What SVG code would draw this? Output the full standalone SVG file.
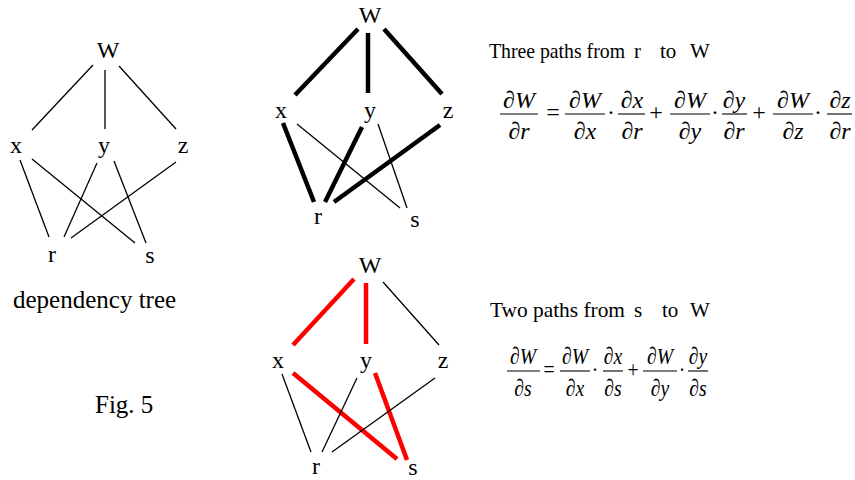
<svg xmlns="http://www.w3.org/2000/svg" width="855" height="480" viewBox="0 0 855 480">
<style>
.lbl{font-family:"Liberation Serif","Times New Roman",serif;font-size:24px;text-anchor:middle;fill:#000}
.cap{font-family:"Liberation Serif","Times New Roman",serif;font-size:21px;fill:#000}
.big{font-family:"Liberation Serif","Times New Roman",serif;font-size:25px;fill:#000}
.m{font-family:"Liberation Serif","Times New Roman",serif;font-size:24px;font-style:italic;text-anchor:middle;fill:#000}
.op{font-family:"Liberation Serif","Times New Roman",serif;font-size:24px;text-anchor:middle;fill:#000}
.thin{stroke:#000;stroke-width:1.3;fill:none}
.thick{stroke:#000;stroke-width:4.5;fill:none}
.red{stroke:#ff0000;stroke-width:4.5;fill:none}
.bar{stroke:#000;stroke-width:1.1;fill:none}
</style>
<rect width="855" height="480" fill="#fff"/>
<g id="connectors">
  <!-- left tree -->
  <line class="thin" x1="93" y1="65" x2="32" y2="130"/>
  <line class="thin" x1="105" y1="70" x2="105" y2="129"/>
  <line class="thin" x1="119" y1="66" x2="176" y2="129"/>
  <line class="thin" x1="20" y1="160" x2="49" y2="237"/>
  <line class="thin" x1="32" y1="159" x2="135" y2="243"/>
  <line class="thin" x1="97" y1="163" x2="64" y2="237"/>
  <line class="thin" x1="114" y1="161" x2="146" y2="243"/>
  <line class="thin" x1="176" y1="162" x2="71" y2="238"/>
  <!-- top middle tree -->
  <line class="thick" x1="358" y1="29" x2="295" y2="95"/>
  <line class="thick" x1="368" y1="33" x2="368" y2="93"/>
  <line class="thick" x1="384" y1="29" x2="442" y2="94"/>
  <line class="thick" x1="283" y1="123" x2="314" y2="202"/>
  <line class="thin" x1="297" y1="124" x2="400" y2="208"/>
  <line class="thick" x1="362" y1="127" x2="325" y2="202"/>
  <line class="thin" x1="378" y1="124" x2="407" y2="208"/>
  <line class="thick" x1="440" y1="125" x2="334" y2="202"/>
  <!-- bottom middle tree -->
  <line class="red" x1="354" y1="279" x2="293" y2="345"/>
  <line class="red" x1="366" y1="283" x2="366" y2="344"/>
  <line class="thin" x1="383" y1="282" x2="439" y2="345"/>
  <line class="thin" x1="282" y1="374" x2="311" y2="452"/>
  <line class="red" x1="293" y1="373" x2="397" y2="459"/>
  <line class="thin" x1="357" y1="378" x2="322" y2="452"/>
  <line class="red" x1="375" y1="373" x2="407" y2="460"/>
  <line class="thin" x1="435" y1="378" x2="332" y2="452"/>
</g>
<!-- left tree nodes -->
<g id="t1-W"><text class="lbl" x="108" y="58">W</text></g>
<g id="t1-x"><text class="lbl" x="16" y="153">x</text></g>
<g id="t1-y"><text class="lbl" x="104" y="153">y</text></g>
<g id="t1-z"><text class="lbl" x="183" y="153">z</text></g>
<g id="t1-r"><text class="lbl" x="52" y="262">r</text></g>
<g id="t1-s"><text class="lbl" x="150" y="263">s</text></g>
<!-- top middle tree nodes -->
<g id="t2-W"><text class="lbl" x="370" y="23">W</text></g>
<g id="t2-x"><text class="lbl" x="281" y="118">x</text></g>
<g id="t2-y"><text class="lbl" x="370" y="118">y</text></g>
<g id="t2-z"><text class="lbl" x="448" y="118">z</text></g>
<g id="t2-r"><text class="lbl" x="318" y="224">r</text></g>
<g id="t2-s"><text class="lbl" x="415" y="227">s</text></g>
<!-- bottom middle tree nodes -->
<g id="t3-W"><text class="lbl" x="370" y="273">W</text></g>
<g id="t3-x"><text class="lbl" x="278" y="368">x</text></g>
<g id="t3-y"><text class="lbl" x="366" y="368">y</text></g>
<g id="t3-z"><text class="lbl" x="443" y="368">z</text></g>
<g id="t3-r"><text class="lbl" x="316" y="474">r</text></g>
<g id="t3-s"><text class="lbl" x="413" y="475">s</text></g>
<!-- captions -->
<text class="big" x="13" y="308">dependency tree</text>
<text class="big" x="95" y="413">Fig. 5</text>
<text class="cap" y="58"><tspan x="489" textLength="136" lengthAdjust="spacingAndGlyphs">Three paths from</tspan><tspan x="634">r</tspan><tspan x="660">to</tspan><tspan x="690">W</tspan></text>
<text class="cap" y="317"><tspan x="490" textLength="135" lengthAdjust="spacingAndGlyphs">Two paths from</tspan><tspan x="634">s</tspan><tspan x="662">to</tspan><tspan x="690">W</tspan></text>
<!-- equation 1 -->
<g id="eq1">
  <line class="bar" x1="500" y1="114" x2="538" y2="114"/>
  <line class="bar" x1="565" y1="114" x2="605" y2="114"/>
  <line class="bar" x1="618" y1="114" x2="645" y2="114"/>
  <line class="bar" x1="670" y1="114" x2="710" y2="114"/>
  <line class="bar" x1="722" y1="114" x2="747" y2="114"/>
  <line class="bar" x1="773" y1="114" x2="813" y2="114"/>
  <line class="bar" x1="827" y1="114" x2="852" y2="114"/>
  <text class="m" x="519" y="108">∂W</text><text class="m" x="519" y="139">∂r</text>
  <text class="op" x="553" y="120">=</text>
  <text class="m" x="585" y="108">∂W</text><text class="m" x="585" y="139">∂x</text>
  <text class="op" x="611" y="120">·</text>
  <text class="m" x="632" y="108">∂x</text><text class="m" x="632" y="139">∂r</text>
  <text class="op" x="656" y="120">+</text>
  <text class="m" x="690" y="108">∂W</text><text class="m" x="690" y="139">∂y</text>
  <text class="op" x="715" y="120">·</text>
  <text class="m" x="734" y="108">∂y</text><text class="m" x="734" y="139">∂r</text>
  <text class="op" x="759" y="120">+</text>
  <text class="m" x="793" y="108">∂W</text><text class="m" x="793" y="139">∂z</text>
  <text class="op" x="818" y="120">·</text>
  <text class="m" x="840" y="108">∂z</text><text class="m" x="840" y="139">∂r</text>
</g>
<!-- equation 2 -->
<g id="eq2">
  <line class="bar" x1="507" y1="371" x2="540" y2="371"/>
  <line class="bar" x1="560" y1="371" x2="590" y2="371"/>
  <line class="bar" x1="603" y1="371" x2="623" y2="371"/>
  <line class="bar" x1="643" y1="371" x2="677" y2="371"/>
  <line class="bar" x1="688" y1="371" x2="708" y2="371"/>
  <g transform="matrix(0.82 0 0 1 0 0)">
    <text class="m" x="637.8" y="364">∂W</text><text class="m" x="637.8" y="396">∂s</text>
    <text class="op" x="669.5" y="377">=</text>
    <text class="m" x="701.2" y="364">∂W</text><text class="m" x="701.2" y="396">∂x</text>
    <text class="op" x="725.6" y="377">·</text>
    <text class="m" x="747.6" y="364">∂x</text><text class="m" x="747.6" y="396">∂s</text>
    <text class="op" x="772" y="377">+</text>
    <text class="m" x="804.9" y="364">∂W</text><text class="m" x="804.9" y="396">∂y</text>
    <text class="op" x="831.7" y="377">·</text>
    <text class="m" x="851.2" y="364">∂y</text><text class="m" x="851.2" y="396">∂s</text>
  </g>
</g>
</svg>
